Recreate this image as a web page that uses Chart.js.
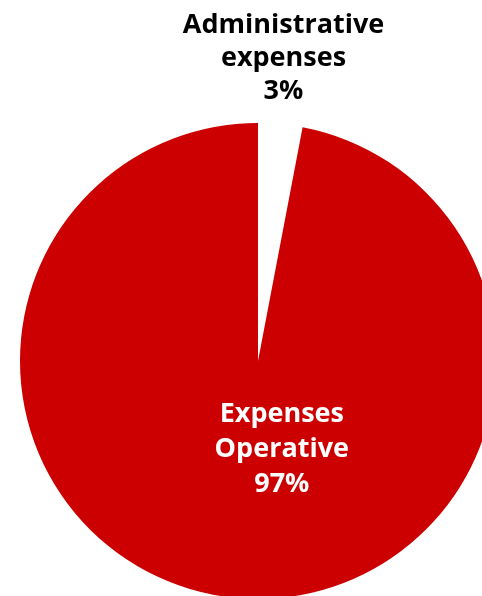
<!DOCTYPE html>
<html>
<head>
<meta charset="utf-8">
<script src="https://cdn.jsdelivr.net/npm/chart.js@4"></script>
<style>
  html, body { margin: 0; padding: 0; background: #fff; overflow: hidden; }
  #wrap { position: absolute; left: 0; top: 0; width: 520px; height: 620px; }
</style>
</head>
<body>
<div id="wrap"><canvas id="chart1"></canvas></div>
<script>
const categories = ['Administrative expenses', 'Expenses Operative'];
const labelLines = [['Administrative', 'expenses'], ['Expenses', 'Operative']];
const values = [3, 97];
const colors = ['#ffffff', '#cc0000'];

const pieLabels = {
  id: 'pieLabels',
  afterDraw(chart) {
    const ctx = chart.ctx;
    const arcs = chart.getDatasetMeta(0).data;
    const total = values.reduce((a, b) => a + b, 0);
    ctx.save();
    ctx.font = 'bold 27px "Open Sans"';
    ctx.textAlign = 'center';
    ctx.textBaseline = 'middle';
    arcs.forEach((arc, i) => {
      const lines = labelLines[i].concat([Math.round(values[i] / total * 100) + '%']);
      const mid = (arc.startAngle + arc.endAngle) / 2;
      let x, y, lh;
      if (i === 0) {
        // outside, above the slice; last line sits just above the rim
        lh = 33;
        const r = arc.outerRadius + 33;
        x = arc.x + Math.cos(mid) * r;
        y = arc.y + Math.sin(mid) * r - lh * (lines.length - 1);
        ctx.fillStyle = '#000';
      } else {
        lh = 35;
        x = arc.x + arc.outerRadius * 0.1;
        y = arc.y + arc.outerRadius * 0.37 - lh;
        ctx.fillStyle = '#fff';
      }
      lines.forEach((t, k) => ctx.fillText(t, x, y + k * lh));
    });
    ctx.restore();
  }
};

new Chart(document.getElementById('chart1'), {
  type: 'pie',
  data: {
    labels: categories,
    datasets: [{
      data: values,
      backgroundColor: colors,
      borderWidth: 0
    }]
  },
  options: {
    responsive: true,
    maintainAspectRatio: false,
    animation: false,
    layout: { padding: { left: 20, top: 123, right: 24, bottom: 21 } },
    plugins: {
      legend: { display: false },
      tooltip: { enabled: false },
      title: { display: false }
    }
  },
  plugins: [pieLabels]
});
</script>
</body>
</html>
